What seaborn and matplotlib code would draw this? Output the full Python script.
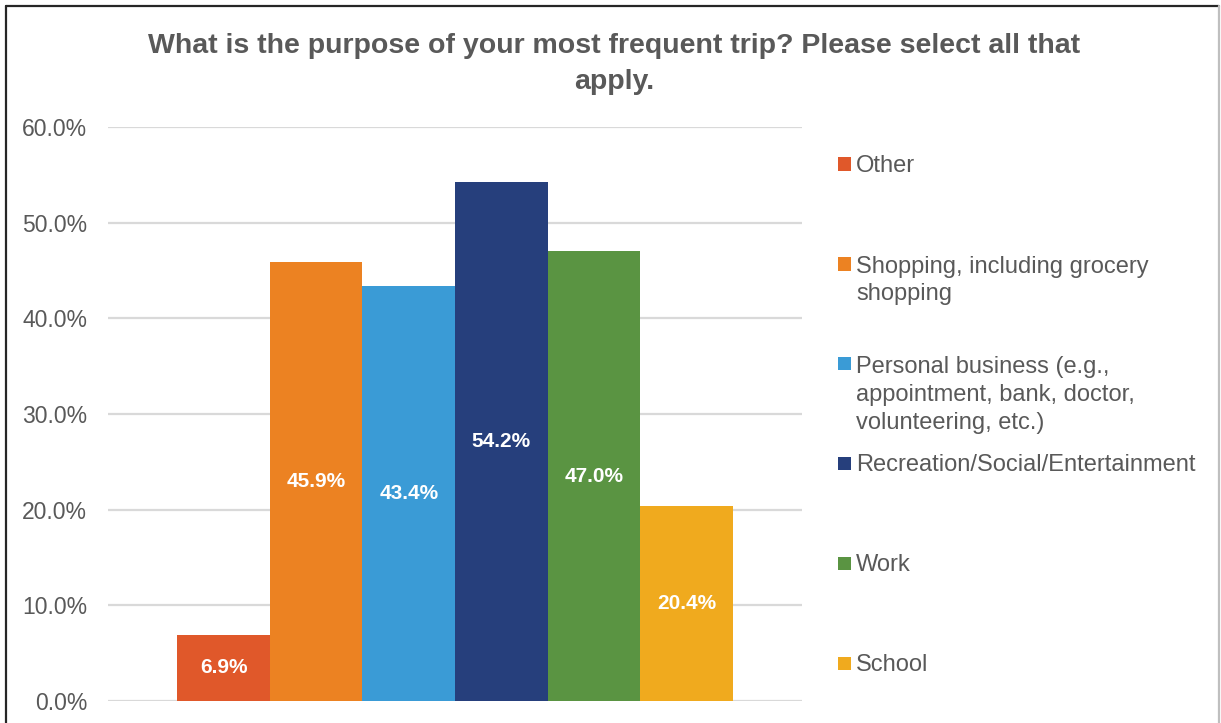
import matplotlib
matplotlib.use("Agg")
import matplotlib.pyplot as plt
from matplotlib.lines import Line2D
from matplotlib.patches import Rectangle
import pandas as pd
import seaborn as sns

# Survey responses: share of respondents selecting each trip purpose (%)
purposes = [
    "Other",
    "Shopping, including grocery\nshopping",
    "Personal business (e.g.,\nappointment, bank, doctor,\nvolunteering, etc.)",
    "Recreation/Social/Entertainment",
    "Work",
    "School",
]
shares = [6.9, 45.9, 43.4, 54.2, 47.0, 20.4]
colors = ["#E0582A", "#EC8222", "#3A9BD6", "#263F7C", "#5A9442", "#F0AA1E"]
y_ticks = [0, 10, 20, 30, 40, 50, 60]
title = "What is the purpose of your most frequent trip? Please select all that\napply."

W, H = 1221, 723
sns.set_theme(style="white")
plt.rcParams["font.family"] = ["Liberation Sans", "DejaVu Sans"]
TEXT_GREY = "#595959"

df = pd.DataFrame({"group": [""] * len(purposes), "purpose": purposes, "share": shares})

fig = plt.figure(figsize=(W / 100, H / 100), dpi=100)
fig.patch.set_facecolor("white")
ax = fig.add_axes([108 / W, (H - 701) / H, (802 - 108) / W, (701 - 127) / H])

sns.barplot(
    data=df, x="group", y="share", hue="purpose", hue_order=purposes,
    palette=colors, width=0.8, gap=0, saturation=1, legend=False,
    errorbar=None, ax=ax, linewidth=0,
)

ax.set_xlim(-0.5, 0.5)
ax.set_ylim(0, 60)
ax.set_yticks(y_ticks)
ax.set_yticklabels([f"{t:.1f}%" for t in y_ticks], color=TEXT_GREY, fontsize=16.5)
ax.tick_params(axis="y", length=0, pad=15)
ax.set_xticks([])
ax.set_xlabel("")
ax.set_ylabel("")
ax.yaxis.grid(True, color="#D9D9D9", linewidth=1.6)
ax.set_axisbelow(True)
for s in ax.spines.values():
    s.set_visible(False)

# value labels centred inside each bar
for cont, v in zip(ax.containers, shares):
    ax.bar_label(cont, labels=[f"{v:.1f}%"], label_type="center",
                 color="white", fontweight="bold", fontsize=15)

# title
fig.text(0.503, 1 - 64 / H, title, ha="center", va="center", multialignment="center",
         fontsize=20.5, fontweight="bold", color=TEXT_GREY, linespacing=1.5)

# legend on the right: square swatch aligned with the first line of each label
entry_y = [164, 264, 364, 463, 563, 663]
line_px = 29
for lab, col, yc in zip(purposes, colors, entry_y):
    n = lab.count("\n") + 1
    fig.patches.append(Rectangle((838 / W, 1 - (yc + 6.5) / H), 13 / W, 13 / H,
                                 transform=fig.transFigure, facecolor=col,
                                 edgecolor="none", figure=fig))
    fig.text(856 / W, 1 - (yc + 2 + (n - 1) * line_px / 2) / H, lab, ha="left", va="center",
             fontsize=17, color=TEXT_GREY, linespacing=1.35)

# outer frame
fig.add_artist(Line2D([6 / W, 1219 / W], [1 - 6 / H, 1 - 6 / H], color="#262626",
                      linewidth=1.6, transform=fig.transFigure))
fig.add_artist(Line2D([6 / W, 6 / W], [0, 1 - 6 / H], color="#262626",
                      linewidth=1.6, transform=fig.transFigure))
fig.add_artist(Line2D([1219 / W, 1219 / W], [0, 1 - 6 / H], color="#BFBFBF",
                      linewidth=1.6, transform=fig.transFigure))

fig.savefig("out.png", dpi=100)
